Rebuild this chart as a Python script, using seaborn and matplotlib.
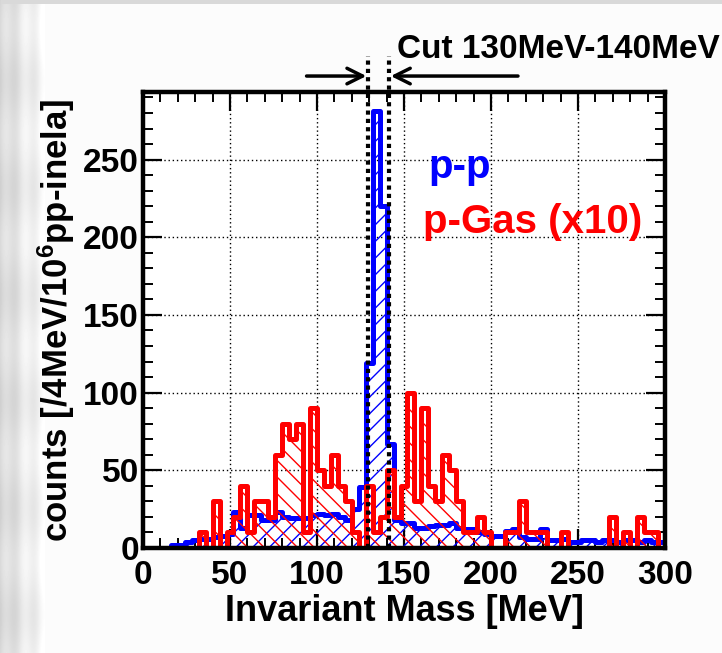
import numpy as np
import pandas as pd
import matplotlib
matplotlib.use("Agg")
import matplotlib.pyplot as plt
import seaborn as sns

# ---- data (4 MeV bins, 0-300 MeV) ----
bin_width = 4
bin_edges = list(range(0, 304, 4))
pp_counts = [0, 0, 0, 0, 2, 2, 4, 5, 6, 6,
             7, 8, 9, 23, 13, 21, 21, 18, 18, 23,
             20, 19, 19, 19, 21, 22, 21, 22, 20, 18,
             25, 39, 119, 281, 220, 67, 18, 16, 16, 13,
             13, 14, 15, 15, 16, 13, 12, 12, 10, 9,
             8, 8, 11, 12, 7, 6, 6, 12, 5, 5,
             6, 4, 4, 5, 5, 4, 5, 5, 4, 5,
             5, 4, 5, 4, 4]
pgas_counts_x10 = [0, 0, 0, 0, 0, 0, 0, 0, 10, 0,
                   30, 0, 10, 20, 40, 10, 30, 30, 20, 60,
                   80, 70, 80, 10, 90, 50, 40, 60, 40, 30,
                   10, 0, 40, 10, 20, 50, 20, 40, 100, 30,
                   90, 40, 30, 60, 50, 30, 10, 10, 20, 10,
                   0, 0, 10, 10, 30, 10, 10, 10, 0, 0,
                   10, 0, 0, 0, 0, 0, 0, 20, 0, 10,
                   0, 20, 10, 10, 0]
cut_lines = [129.2, 141.6]
x_ticks = [0, 50, 100, 150, 200, 250, 300]
y_ticks = [0, 50, 100, 150, 200, 250]

centers = [e + bin_width / 2 for e in bin_edges[:-1]]
df = pd.DataFrame({"mass": centers, "pp": pp_counts, "pgas": pgas_counts_x10})

sns.set_theme(style="white")
plt.rcParams["font.family"] = ["Liberation Sans", "DejaVu Sans"]
plt.rcParams["font.weight"] = "bold"
plt.rcParams["text.color"] = "black"
plt.rcParams["axes.labelcolor"] = "black"
plt.rcParams["xtick.color"] = "black"
plt.rcParams["ytick.color"] = "black"
plt.rcParams["mathtext.fontset"] = "custom"
plt.rcParams["mathtext.rm"] = "Liberation Sans:bold"
plt.rcParams["mathtext.bf"] = "Liberation Sans:bold"
plt.rcParams["mathtext.default"] = "rm"
plt.rcParams["hatch.linewidth"] = 1.0

fig = plt.figure(figsize=(7.22, 6.53), dpi=100)
fig.patch.set_facecolor("white")

# decorative background (left gray streaky strip)
bg = fig.add_axes([0, 0, 1, 1], zorder=-10)
W, H = 722, 653
xs = np.arange(W)
ys = np.arange(H)
col = 0.985 - 0.15 * np.clip((45 - xs) / 45, 0, 1)
col = col + 0.03 * np.sin(xs / 3.1) * (xs < 45)
img = np.tile(col, (H, 1))
img = img + 0.02 * np.sin(ys[:, None] / 17.0) * (xs[None, :] < 45)
img[:4, :] = np.minimum(img[:4, :], 0.85)
img = np.clip(img, 0, 1)
bg.imshow(img, cmap="gray", vmin=0, vmax=1, aspect="auto", extent=[0, 1, 0, 1])
bg.set_axis_off()

ax = fig.add_axes([143 / 722, 1 - 548 / 653, 522 / 722, 456 / 653])
ax.set_facecolor("white")

sns.histplot(data=df, x="mass", weights="pp", bins=bin_edges, element="step",
             fill=True, color="#0000ff", alpha=1, ax=ax)
blue_poly = ax.collections[-1]
blue_poly.set_facecolor("none")
blue_poly.set_edgecolor("#0000ff")
blue_poly.set_linewidth(3.6)
blue_poly.set_hatch("//")
blue_poly.set_zorder(3)

sns.histplot(data=df, x="mass", weights="pgas", bins=bin_edges, element="step",
             fill=True, color="#ff0000", alpha=1, ax=ax)
red_poly = ax.collections[-1]
red_poly.set_facecolor("none")
red_poly.set_edgecolor("#ff0000")
red_poly.set_linewidth(3.6)
red_poly.set_hatch("\\\\")
red_poly.set_zorder(4)

ax.set_xlim(0, 300)
ax.set_ylim(0, 293.5)
ax.set_xticks(x_ticks)
ax.set_yticks(y_ticks)
ax.set_xticks(np.arange(0, 301, 10), minor=True)
ax.set_yticks(np.arange(0, 291, 10), minor=True)
ax.tick_params(which="both", direction="in", top=True, right=True,
               bottom=True, left=True, color="black", labelcolor="black")
ax.tick_params(which="major", length=14, width=1.6, labelsize=24)
ax.tick_params(which="minor", length=7, width=1.4)
ax.tick_params(axis="x", which="major", pad=9)
ax.tick_params(axis="y", which="major", pad=3)
for lab in ax.get_xticklabels() + ax.get_yticklabels():
    lab.set_fontweight("bold")
ax.grid(True, which="major", color="black", linestyle=(0, (1, 2)), linewidth=1.0)
ax.set_axisbelow(True)
for sp in ax.spines.values():
    sp.set_visible(True)
    sp.set_color("black")
    sp.set_linewidth(3.2)
    sp.set_zorder(6)

ax.set_xlabel("Invariant Mass [MeV]", fontsize=26, fontweight="bold", labelpad=2,
              color="black")
ax.set_ylabel("counts [/4MeV/10$^{6}$pp-inela]", fontsize=25, fontweight="bold",
              labelpad=4, color="black")

# cut lines
trans = ax.get_xaxis_transform()
for xc in cut_lines:
    ax.plot([xc, xc], [0, 1.078], transform=trans, clip_on=False, color="black",
            lw=3.0, linestyle=(0, (1, 1)), zorder=7, solid_capstyle="butt",
            dash_capstyle="butt")

ax.annotate("", xy=(cut_lines[0] - 0.8, 1.035), xytext=(94, 1.035),
            xycoords=trans, textcoords=trans,
            arrowprops=dict(arrowstyle="->", lw=2.5, color="black",
                            mutation_scale=28, shrinkA=0, shrinkB=0))
ax.annotate("", xy=(cut_lines[1] + 0.8, 1.035), xytext=(215.5, 1.035),
            xycoords=trans, textcoords=trans,
            arrowprops=dict(arrowstyle="->", lw=2.5, color="black",
                            mutation_scale=28, shrinkA=0, shrinkB=0))
fig.text(397 / 722, 1 - 50 / 653, "Cut 130MeV-140MeV", fontsize=24,
         fontweight="bold", ha="left", va="center", color="black")

ax.text(0.546, 0.835, "p-p", transform=ax.transAxes, color="#0000ff",
        fontsize=29, fontweight="bold", ha="left", va="center", zorder=8)
ax.text(0.536, 0.715, "p-Gas (x10)", transform=ax.transAxes, color="#ff0000",
        fontsize=29, fontweight="bold", ha="left", va="center", zorder=8)

fig.savefig("out.png", dpi=100, facecolor=fig.get_facecolor())
